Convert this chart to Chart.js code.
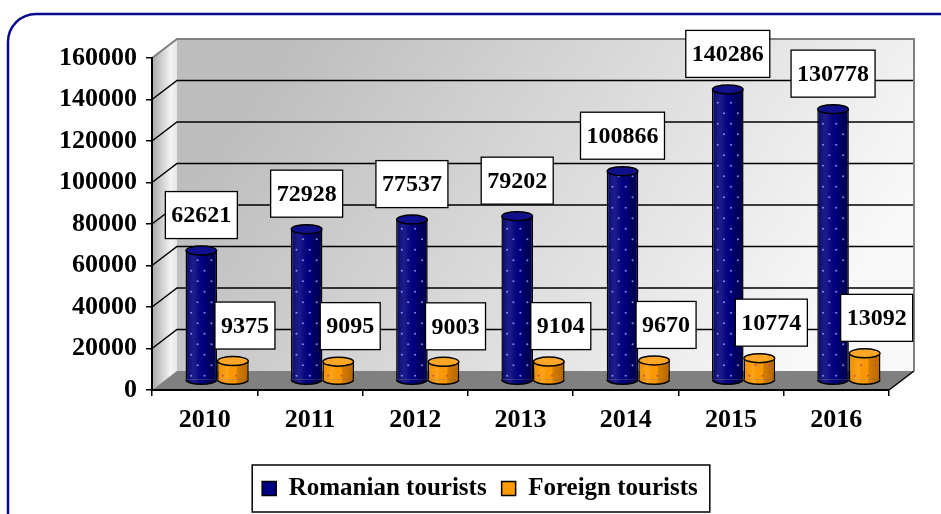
<!DOCTYPE html>
<html>
<head>
<meta charset="utf-8">
<script src="https://cdn.jsdelivr.net/npm/chart.js@4.4.1/dist/chart.umd.min.js"></script>
<style>
  html, body { margin: 0; padding: 0; background: #fff; }
  canvas { display: block; }
</style>
</head>
<body>
<canvas id="touristsChart" width="941" height="514"></canvas>
<script>
const years = ['2010', '2011', '2012', '2013', '2014', '2015', '2016'];
const romanianTourists = [62621, 72928, 77537, 79202, 100866, 140286, 130778];
const foreignTourists = [9375, 9095, 9003, 9104, 9670, 10774, 13092];
const seriesNames = ['Romanian tourists', 'Foreign tourists'];
const yMax = 160000;
const yStep = 20000;

const FONT = '"Liberation Serif", "Times New Roman", serif';
// depth of the fake 3d box (back wall offset), bars sit half way in
const DX = 25, DY = -19;

Chart.defaults.font.family = FONT;
Chart.defaults.font.weight = 'bold';
Chart.defaults.color = '#000';

// frame, walls, floor and grid, painted before the axes
const wallsPlugin = {
    id: 'walls',
    beforeDraw(chart) {
        const ctx = chart.ctx;
        const {left, right, top, bottom} = chart.chartArea;
        const y = chart.scales.y;
        ctx.save();
        ctx.fillStyle = '#fff';
        ctx.fillRect(0, 0, chart.width, chart.height);

        ctx.strokeStyle = '#0a0a8c';
        ctx.lineWidth = 2.5;
        ctx.beginPath();
        ctx.roundRect(8, 14, chart.width + 40, chart.height + 40, 28);
        ctx.stroke();

        // side wall
        let g = ctx.createLinearGradient(left, 0, left + DX, 0);
        g.addColorStop(0, '#a8a8a8');
        g.addColorStop(0.75, '#f4f4f4');
        g.addColorStop(1, '#e6e6e6');
        ctx.fillStyle = g;
        ctx.beginPath();
        ctx.moveTo(left, top);
        ctx.lineTo(left + DX, top + DY);
        ctx.lineTo(left + DX, bottom + DY);
        ctx.lineTo(left, bottom);
        ctx.closePath();
        ctx.fill();

        // back wall
        g = ctx.createLinearGradient(left + 150, top + DY, right - 100, bottom + DY);
        g.addColorStop(0, '#bebebe');
        g.addColorStop(1, '#f8f8f8');
        ctx.fillStyle = g;
        ctx.fillRect(left + DX, top + DY, right - left, bottom - top);

        // floor
        ctx.fillStyle = '#808080';
        ctx.beginPath();
        ctx.moveTo(left, bottom);
        ctx.lineTo(left + DX, bottom + DY);
        ctx.lineTo(right + DX, bottom + DY);
        ctx.lineTo(right, bottom);
        ctx.closePath();
        ctx.fill();
        ctx.strokeStyle = '#000';
        ctx.lineWidth = 1.5;
        ctx.beginPath();
        ctx.moveTo(right, bottom);
        ctx.lineTo(right + DX, bottom + DY);
        ctx.stroke();

        // grid lines
        ctx.strokeStyle = '#000';
        ctx.lineWidth = 1.5;
        for (let v = yStep; v < yMax; v += yStep) {
            const py = y.getPixelForValue(v);
            ctx.beginPath();
            ctx.moveTo(left, py);
            ctx.lineTo(left + DX, py + DY);
            ctx.lineTo(right + DX, py + DY);
            ctx.stroke();
        }

        // wall edges
        ctx.strokeStyle = '#808080';
        ctx.lineWidth = 2;
        ctx.beginPath();
        ctx.moveTo(left, top);
        ctx.lineTo(left + DX, top + DY);
        ctx.lineTo(right + DX, top + DY);
        ctx.lineTo(right + DX, bottom + DY);
        ctx.stroke();
        ctx.restore();
    }
};

const bodyShade = [
    [[0, 'rgba(0,0,0,0.25)'], [0.3, 'rgba(255,255,255,0.10)'], [0.62, 'rgba(0,0,0,0)'], [0.68, 'rgba(0,0,0,0.2)'], [1, 'rgba(0,0,0,0.4)']],
    [[0, 'rgba(0,0,0,0.05)'], [0.3, 'rgba(255,255,255,0.10)'], [0.6, 'rgba(0,0,0,0)'], [0.64, 'rgba(90,40,0,0.25)'], [1, 'rgba(60,20,0,0.4)']]
];
const capColors = ['#10108c', '#ffa626'];
const dotColors = ['rgba(170,170,255,0.75)', 'rgba(190,60,110,0.75)'];

function shadePath(ctx, x, top, base, w, ry) {
    ctx.beginPath();
    ctx.moveTo(x - w / 2, top);
    ctx.lineTo(x - w / 2, base);
    ctx.ellipse(x, base, w / 2, ry, 0, Math.PI, 0, true);
    ctx.lineTo(x + w / 2, top);
    ctx.closePath();
}

function drawCylinder(ctx, el, di, color) {
    const {x, y, base, width} = el.getProps(['x', 'y', 'base', 'width'], true);
    const ry = 4.5;
    const l = x - width / 2;
    // bottom rounding in body colour
    ctx.fillStyle = color;
    ctx.beginPath();
    ctx.ellipse(x, base, width / 2, ry, 0, 0, Math.PI);
    ctx.fill();
    // shading across the body
    const g = ctx.createLinearGradient(l, 0, l + width, 0);
    bodyShade[di].forEach(([s, c]) => g.addColorStop(s, c));
    ctx.fillStyle = g;
    shadePath(ctx, x, y, base, width - 2, ry);
    ctx.fill();
    // dotted texture
    ctx.fillStyle = dotColors[di];
    let row = 0;
    for (let py = base - 4; py > y + 5; py -= 10.5, row++) {
        const cols = row % 2 ? [0.38, 0.82] : [0.18, 0.6];
        cols.forEach(c => {
            ctx.beginPath();
            ctx.arc(l + c * width, py, 1.1, 0, Math.PI * 2);
            ctx.fill();
        });
    }
    // outline of the bottom
    ctx.strokeStyle = '#000';
    ctx.lineWidth = 1.5;
    ctx.beginPath();
    ctx.ellipse(x, base, width / 2 - 0.5, ry, 0, 0, Math.PI);
    ctx.stroke();
    // top cap
    ctx.fillStyle = capColors[di];
    ctx.beginPath();
    ctx.ellipse(x, y, width / 2 - 0.5, ry, 0, 0, Math.PI * 2);
    ctx.fill();
    ctx.stroke();
}

function drawValueBox(ctx, text, cx, bottom) {
    ctx.font = 'bold 24px ' + FONT;
    const w = ctx.measureText(text).width + 12;
    const h = 47;
    ctx.fillStyle = '#fff';
    ctx.fillRect(cx - w / 2, bottom - h, w, h);
    ctx.strokeStyle = '#000';
    ctx.lineWidth = 1.3;
    ctx.strokeRect(cx - w / 2, bottom - h, w, h);
    ctx.fillStyle = '#000';
    ctx.textAlign = 'center';
    ctx.textBaseline = 'middle';
    ctx.fillText(text, cx, bottom - h / 2 + 1);
}

const cylinderPlugin = {
    id: 'cylinders',
    beforeDatasetsDraw(chart) {
        chart.ctx.save();
        chart.ctx.translate(DX / 2, DY / 2);
    },
    afterDatasetsDraw(chart) {
        const ctx = chart.ctx;
        const metas = chart.data.datasets.map((d, i) => chart.getDatasetMeta(i));
        years.forEach((yr, i) => {
            metas.forEach((meta, di) => {
                drawCylinder(ctx, meta.data[i], di, chart.data.datasets[di].backgroundColor);
            });
        });
        metas.forEach((meta, di) => {
            const values = chart.data.datasets[di].data;
            meta.data.forEach((el, i) => {
                const shift = di === 1 ? 12 : 0;
                drawValueBox(ctx, String(values[i]), el.x + shift, el.y - 12);
            });
        });
        ctx.restore();
    },
    afterDraw(chart) {
        const lg = chart.legend;
        const hb = lg.legendHitBoxes;
        if (!hb || !hb.length) return;
        const last = hb[hb.length - 1];
        const ctx = chart.ctx;
        ctx.save();
        ctx.strokeStyle = '#000';
        ctx.lineWidth = 1.5;
        const l = hb[0].left - 10;
        const r = last.left + last.width + 12;
        const t = hb[0].top - 11;
        ctx.strokeRect(l, t, r - l, 47);
        ctx.restore();
    }
};

new Chart(document.getElementById('touristsChart').getContext('2d'), {
    type: 'bar',
    data: {
        labels: years,
        datasets: [
            {
                label: seriesNames[0],
                data: romanianTourists,
                backgroundColor: '#000080',
                borderColor: '#000',
                borderWidth: 1.5,
                borderSkipped: 'start',
                clip: false
            },
            {
                label: seriesNames[1],
                data: foreignTourists,
                backgroundColor: '#ff9900',
                borderColor: '#000',
                borderWidth: 1.5,
                borderSkipped: 'start',
                clip: false
            }
        ]
    },
    options: {
        responsive: false,
        animation: false,
        layout: { padding: { left: 20, right: 1, top: 58, bottom: 3 } },
        datasets: { bar: { categoryPercentage: 0.6, barPercentage: 1 } },
        scales: {
            x: {
                grid: { drawOnChartArea: false, tickLength: 6, color: '#000', lineWidth: 1.5 },
                border: { color: '#000', width: 2 },
                ticks: { font: { size: 26 }, padding: 9, maxRotation: 0 },
                afterFit(s) { s.height = 71; }
            },
            y: {
                min: 0,
                max: yMax,
                grid: { drawOnChartArea: false, tickLength: 6, color: '#000', lineWidth: 1.5 },
                border: { color: '#000', width: 2 },
                ticks: { stepSize: yStep, font: { size: 26 }, padding: 9, callback: v => String(v) },
                afterFit(s) { s.width = 132; }
            },
            // empty right-hand axis, only keeps room for the depth of the box
            yRight: {
                position: 'right',
                min: 0,
                max: yMax,
                grid: { display: false },
                border: { display: false },
                ticks: { display: false },
                afterFit(s) { s.width = 51; }
            }
        },
        plugins: {
            legend: {
                position: 'bottom',
                labels: { font: { size: 25 }, boxWidth: 14, boxHeight: 14, padding: 15 }
            },
            tooltip: { enabled: false }
        }
    },
    plugins: [wallsPlugin, cylinderPlugin]
});
</script>
</body>
</html>
